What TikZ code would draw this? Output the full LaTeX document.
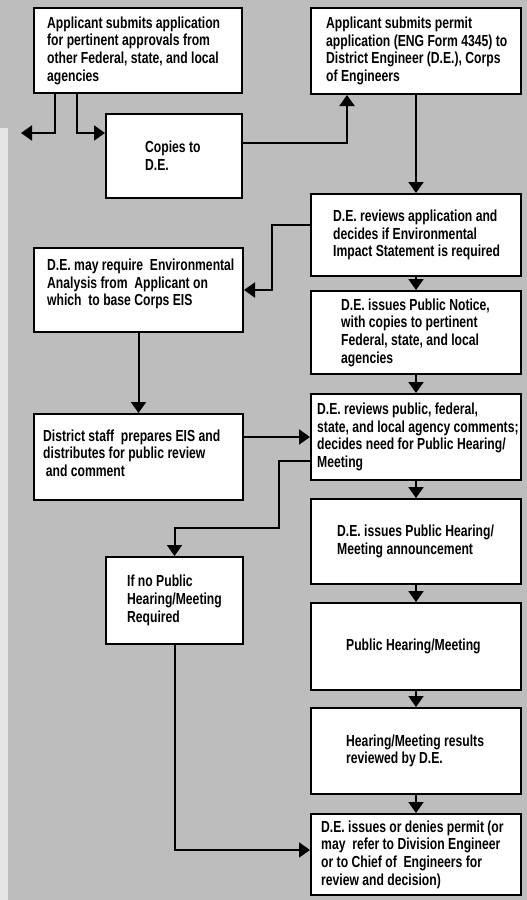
\documentclass[tikz,border=0pt]{standalone}
\usepackage{fontspec}
\newfontfamily\flowfont[FakeStretch=0.76]{Liberation Sans}
\usetikzlibrary{arrows.meta}
\definecolor{paper}{gray}{0.74}
\definecolor{edge}{gray}{0.9}
\tikzset{
  stepbox/.style={draw, fill=white, line width=2pt, anchor=north west, inner sep=0pt},
  steptext/.style={anchor=west, align=left, inner sep=0pt, font=\flowfont\bfseries\fontsize{16}{17.7}\selectfont},
  flow/.style={line width=2pt, -{Triangle[length=11pt,width=15pt]}}
}
\begin{document}
\begin{tikzpicture}[x=1pt, y=-1pt]
		  \fill[paper] (0,0) rectangle (527,900);
		  \fill[edge] (0,128) rectangle (8,900);
		  \useasboundingbox (0,0) rectangle (527,900);
		  % left column
		  \node[stepbox, minimum width=208pt, minimum height=85pt] (apply) at (33,7) {};
		  \node[steptext] (applytext) at ([xshift=14pt]apply.west) {Applicant submits application\\ for pertinent approvals from\\ other Federal, state, and local\\ agencies};
		  \node[stepbox, minimum width=136pt, minimum height=84pt] (copies) at (105,113) {};
		  \node[steptext] (copiestext) at ([xshift=40pt]copies.west) {Copies to\\ D.E.};
		  \node[stepbox, minimum width=209pt, minimum height=84pt] (analysis) at (33,247) {};
		  \node[steptext] (analysistext) at ([xshift=14pt, yshift=6pt]analysis.west) {D.E. may require \ Environmental\\ Analysis from \ Applicant on\\ which \ to base Corps EIS};
		  \node[stepbox, minimum width=209pt, minimum height=86pt] (staff) at (33,413) {};
		  \node[steptext] (stafftext) at ([xshift=10pt, yshift=4pt]staff.west) {District staff \ prepares EIS and\\ distributes for public review\\ \,and comment};
		  \node[stepbox, minimum width=137pt, minimum height=87pt] (hearingno) at (105,556) {};
		  \node[steptext] (hearingnotext) at ([xshift=22pt]hearingno.west) {If no Public\\ Hearing/Meeting\\ Required};
		  % right column
		  \node[stepbox, minimum width=210pt, minimum height=86pt] (permit) at (310,7) {};
		  \node[steptext] (permittext) at ([xshift=16pt]permit.west) {Applicant submits permit\\ application (ENG Form 4345) to\\ District Engineer (D.E.), Corps\\ of Engineers};
		  \node[stepbox, minimum width=210pt, minimum height=82pt] (review) at (310,193) {};
		  \node[steptext] (reviewtext) at ([xshift=23pt]review.west) {D.E. reviews application and\\ decides if Environmental\\ Impact Statement is required};
		  \node[stepbox, minimum width=210pt, minimum height=83pt] (notice) at (310,290) {};
		  \node[steptext] (noticetext) at ([xshift=31pt]notice.west) {D.E. issues Public Notice,\\ with copies to pertinent\\ Federal, state, and local\\ agencies};
		  \node[stepbox, minimum width=210pt, minimum height=86pt] (comments) at (310,393) {};
		  \node[steptext] (commentstext) at ([xshift=7pt]comments.west) {D.E. reviews public, federal,\\ state, and local agency comments;\\ decides need for Public Hearing/\\ Meeting};
		  \node[stepbox, minimum width=210pt, minimum height=85pt] (announce) at (310,498) {};
		  \node[steptext] (announcetext) at ([xshift=27pt]announce.west) {D.E. issues Public Hearing/\\ Meeting announcement};
		  \node[stepbox, minimum width=210pt, minimum height=87pt] (meeting) at (310,602) {};
		  \node[steptext] (meetingtext) at ([xshift=36pt]meeting.west) {Public Hearing/Meeting};
		  \node[stepbox, minimum width=210pt, minimum height=86pt] (results) at (310,707) {};
		  \node[steptext] (resultstext) at ([xshift=36pt]results.west) {Hearing/Meeting results\\ reviewed by D.E.};
		  \node[stepbox, minimum width=210pt, minimum height=81pt] (decision) at (310,813) {};
		  \node[steptext] (decisiontext) at ([xshift=11pt]decision.west) {D.E. issues or denies permit (or\\ may \ refer to Division Engineer\\ or to Chief of \ Engineers for\\ review and decision)};
		  % connectors
		  \coordinate (otheragencies) at (21,133);
		  \draw[flow] (55,0 |- apply.south) |- (otheragencies);
		  \draw[flow] (77,0 |- apply.south) |- (copies.west |- 0,133);
		  \draw[flow] (copies.east |- 0,143) -| (347,0 |- permit.south);
		  \draw[flow] (permit.south) -- (review.north);
		  \draw[flow] (review.west |- 0,225) -- (272,225) |- (analysis.east);
		  \draw[flow] (review.south) -- (notice.north);
		  \draw[flow] (notice.south) -- (comments.north);
		  \draw[flow] (analysis.south) -- (staff.north);
		  \draw[flow] (staff.east |- comments.west) -- (comments.west);
		  \draw[flow] (comments.west |- 0,461) -- (279,461) -- (279,528) -| (hearingno.north);
		  \draw[flow] (comments.south) -- (announce.north);
		  \draw[flow] (announce.south) -- (meeting.north);
		  \draw[flow] (meeting.south) -- (results.north);
		  \draw[flow] (results.south) -- (decision.north);
		  \draw[flow] (hearingno.south) |- (decision.west |- 0,850);
\end{tikzpicture}
\end{document}
